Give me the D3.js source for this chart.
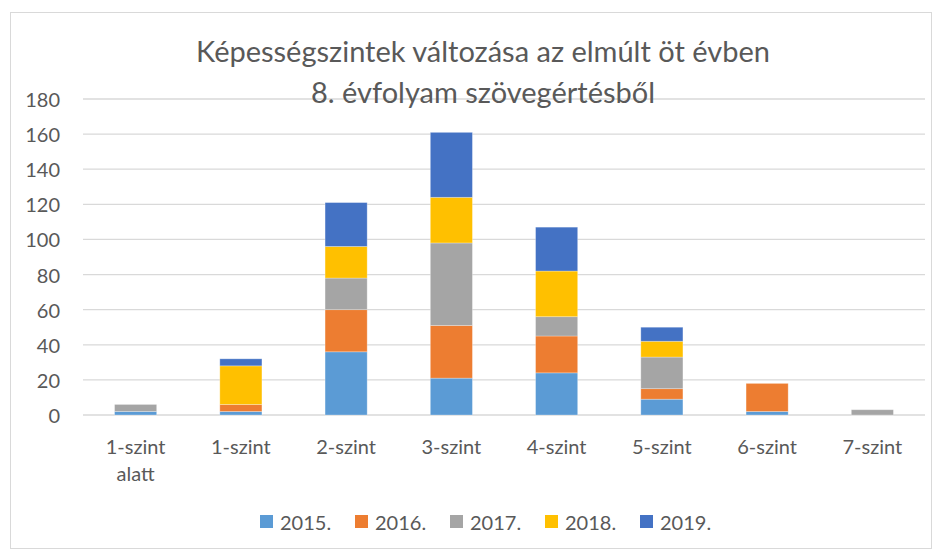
<!DOCTYPE html>
<html>
<head>
<meta charset="utf-8">
<script src="https://cdn.jsdelivr.net/npm/d3@7"></script>
<style>
  body { margin: 0; background: #fff; }
  svg text { font-family: Lato, "Noto Sans", sans-serif; fill: #595959; }
</style>
</head>
<body>
<div id="chart"></div>
<script>
// categories and series
const categories = ["1-szint alatt", "1-szint", "2-szint", "3-szint", "4-szint", "5-szint", "6-szint", "7-szint"];
const years = ["2015.", "2016.", "2017.", "2018.", "2019."];
const colors = ["#5B9BD5", "#ED7D31", "#A5A5A5", "#FFC000", "#4472C4"];

const v2015 = [2, 2, 36, 21, 24, 9, 2, 0];
const v2016 = [0, 4, 24, 30, 21, 6, 16, 0];
const v2017 = [4, 0, 18, 47, 11, 18, 0, 3];
const v2018 = [0, 22, 18, 26, 26, 9, 0, 0];
const v2019 = [0, 4, 25, 37, 25, 8, 0, 0];

const yTicks = [0, 20, 40, 60, 80, 100, 120, 140, 160, 180];
const titleLines = ["Képességszintek változása az elmúlt öt évben", "8. évfolyam szövegértésből"];

const width = 941, height = 555;
const margin = { top: 99, right: 16, bottom: 140, left: 83 };

const svg = d3.select("#chart").append("svg")
    .attr("width", width)
    .attr("height", height);

// chart border
svg.append("rect")
    .attr("x", 10.5).attr("y", 12.5)
    .attr("width", 921).attr("height", 536)
    .attr("fill", "none")
    .attr("stroke", "#D9D9D9");

const table = categories.map((c, i) => ({
    cat: c,
    "2015.": v2015[i], "2016.": v2016[i], "2017.": v2017[i], "2018.": v2018[i], "2019.": v2019[i]
}));

const stacked = d3.stack().keys(years)(table);

const x = d3.scaleBand()
    .domain(categories)
    .range([margin.left, width - margin.right])
    .paddingInner(0.6)
    .paddingOuter(0.3);

const y = d3.scaleLinear()
    .domain([0, 180])
    .range([height - margin.bottom, margin.top]);

// gridlines
svg.append("g")
    .selectAll("line")
    .data(yTicks)
    .enter().append("line")
    .attr("x1", margin.left)
    .attr("x2", width - margin.right)
    .attr("y1", d => y(d))
    .attr("y2", d => y(d))
    .attr("stroke", "#D9D9D9")
    .attr("stroke-width", 1.3);

// y labels
svg.append("g")
    .selectAll("text")
    .data(yTicks)
    .enter().append("text")
    .attr("x", 60)
    .attr("y", d => y(d))
    .attr("text-anchor", "end")
    .attr("dominant-baseline", "central")
    .style("font-size", "20px")
    .text(d => d);

// bars
svg.append("g")
    .selectAll("g")
    .data(stacked)
    .enter().append("g")
    .attr("fill", (d, i) => colors[i])
    .selectAll("rect")
    .data(d => d)
    .enter().append("rect")
    .attr("x", d => x(d.data.cat))
    .attr("y", d => y(d[1]))
    .attr("width", x.bandwidth())
    .attr("height", d => y(d[0]) - y(d[1]))
    .attr("stroke", "#ffffff")
    .attr("stroke-opacity", 0.35)
    .attr("stroke-width", 0.8);

// x labels
const xl = svg.append("g")
    .selectAll("text")
    .data(categories)
    .enter().append("text")
    .attr("x", d => x(d) + x.bandwidth() / 2)
    .attr("y", 446)
    .attr("text-anchor", "middle")
    .attr("dominant-baseline", "central")
    .style("font-size", "20px");
xl.each(function(d) {
    const parts = d === "1-szint alatt" ? ["1-szint", "alatt"] : [d];
    const t = d3.select(this);
    parts.forEach((p, i) => {
        t.append("tspan")
            .attr("x", x(d) + x.bandwidth() / 2)
            .attr("dy", i === 0 ? 0 : 27)
            .text(p);
    });
});

// title
svg.append("g")
    .selectAll("text")
    .data(titleLines)
    .enter().append("text")
    .attr("x", 483)
    .attr("y", (d, i) => 50 + i * 41)
    .attr("text-anchor", "middle")
    .attr("dominant-baseline", "central")
    .style("font-size", "29px")
    .text(d => d);

// legend
const legend = svg.append("g")
    .selectAll("g")
    .data(years)
    .enter().append("g")
    .attr("transform", (d, i) => `translate(${260 + i * 95}, 522)`);
legend.append("rect")
    .attr("x", 0).attr("y", -7)
    .attr("width", 13).attr("height", 13)
    .attr("fill", (d, i) => colors[i]);
legend.append("text")
    .attr("x", 20)
    .attr("y", 0)
    .attr("dominant-baseline", "central")
    .style("font-size", "20px")
    .text(d => d);
</script>
</body>
</html>
